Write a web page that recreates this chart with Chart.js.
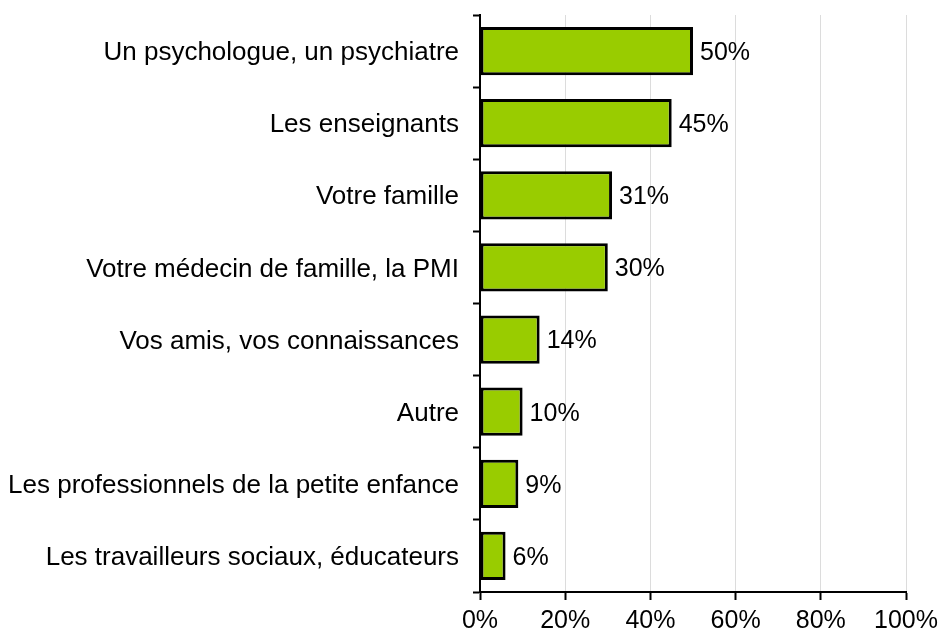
<!DOCTYPE html>
<html>
<head>
<meta charset="utf-8">
<script src="https://cdn.jsdelivr.net/npm/chart.js@4"></script>
<style>
    html, body { margin: 0; padding: 0; background: #fff; }
    .chart_box { width: 940px; height: 642px; }
</style>
</head>
<body>
<div class="chart_box"><canvas id="bar_chart"></canvas></div>
<script>
const categories = [
    'Un psychologue, un psychiatre',
    'Les enseignants',
    'Votre famille',
    'Votre médecin de famille, la PMI',
    'Vos amis, vos connaissances',
    'Autre',
    'Les professionnels de la petite enfance',
    'Les travailleurs sociaux, éducateurs'
];
const shares = [50, 45, 31, 30, 14, 10, 9, 6];
const xTicks = [0, 20, 40, 60, 80, 100];

const FONT = "'Liberation Sans', Arial, sans-serif";
const FONT_SIZE = 25;

// percent text just right of each bar end
const valueLabels = {
    id: 'valueLabels',
    afterDatasetsDraw(chart) {
        const ctx = chart.ctx;
        const meta = chart.getDatasetMeta(0);
        ctx.save();
        ctx.font = FONT_SIZE + 'px ' + FONT;
        ctx.fillStyle = '#000';
        ctx.textAlign = 'left';
        ctx.textBaseline = 'middle';
        meta.data.forEach((bar, i) => {
            ctx.fillText(shares[i] + '%', bar.x + 7, bar.y + 2);
        });
        ctx.restore();
    }
};

const ctx = document.getElementById('bar_chart').getContext('2d');
new Chart(ctx, {
    type: 'bar',
    data: {
        labels: categories,
        datasets: [{
            data: shares,
            backgroundColor: '#99cc00',
            borderColor: '#000',
            borderWidth: 3,
            borderSkipped: false,
            barPercentage: 0.67,
            categoryPercentage: 1
        }]
    },
    options: {
        indexAxis: 'y',
        responsive: true,
        maintainAspectRatio: false,
        animation: false,
        layout: { padding: { top: 15, right: 34, left: 0, bottom: 0 } },
        plugins: {
            legend: { display: false },
            tooltip: { enabled: false }
        },
        scales: {
            x: {
                min: 0,
                max: 100,
                afterBuildTicks: scale => {
                    scale.ticks = xTicks.map(v => ({ value: v }));
                },
                afterFit: scale => {
                    scale.height = 50;
                    scale.paddingLeft = 0;
                    scale.paddingRight = 0;
                },
                grid: {
                    color: '#dcdcdc',
                    lineWidth: 1,
                    tickColor: '#000',
                    tickLength: 8,
                    tickWidth: 2
                },
                border: { color: '#000', width: 2 },
                ticks: {
                    color: '#000',
                    padding: 6,
                    font: { family: FONT, size: FONT_SIZE },
                    callback: v => v + '%'
                }
            },
            y: {
                afterFit: scale => {
                    scale.width = 480;
                    scale.paddingTop = 0;
                    scale.paddingBottom = 0;
                },
                grid: {
                    offset: true,
                    drawOnChartArea: false,
                    tickColor: '#000',
                    tickLength: 7,
                    tickWidth: 2
                },
                border: { color: '#000', width: 2 },
                ticks: {
                    color: '#000',
                    padding: 14,
                    labelOffset: 2,
                    font: { family: FONT, size: 26 }
                }
            }
        }
    },
    plugins: [valueLabels]
});
</script>
</body>
</html>
